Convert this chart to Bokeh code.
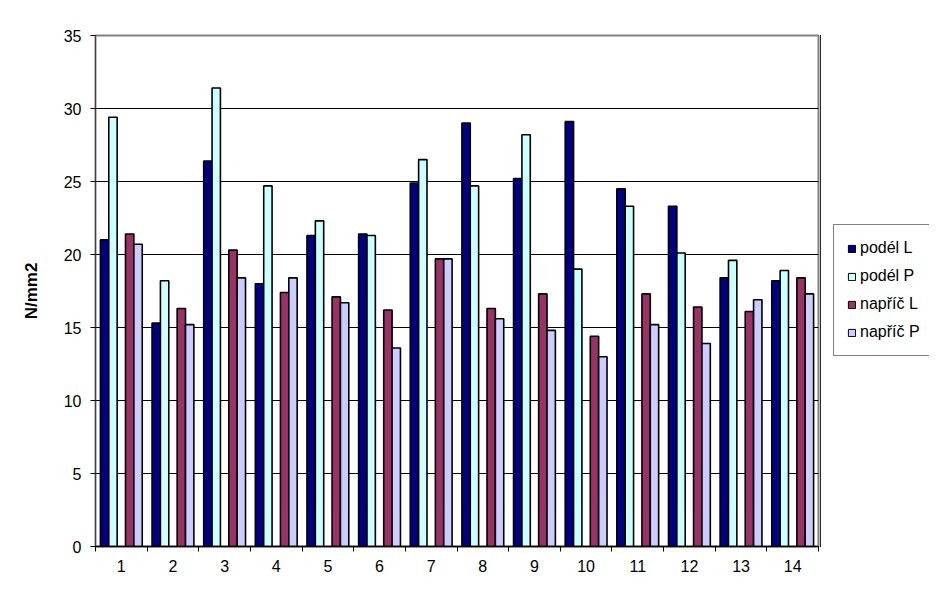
import numpy as np
from bokeh.plotting import figure
from bokeh.layouts import row
from bokeh.models import ColumnDataSource, Range1d, FixedTicker, Legend, LegendItem
from bokeh.transform import dodge
from bokeh.embed import file_html
from bokeh.resources import INLINE

categories = [str(i) for i in range(1, 15)]
podel_L = [21.0, 15.3, 26.4, 18.0, 21.3, 21.4, 24.9, 29.0, 25.2, 29.1, 24.5, 23.3, 18.4, 18.2]
podel_P = [29.4, 18.2, 31.4, 24.7, 22.3, 21.3, 26.5, 24.7, 28.2, 19.0, 23.3, 20.1, 19.6, 18.9]
napric_L = [21.4, 16.3, 20.3, 17.4, 17.1, 16.2, 19.7, 16.3, 17.3, 14.4, 17.3, 16.4, 16.1, 18.4]
napric_P = [20.7, 15.2, 18.4, 18.4, 16.7, 13.6, 19.7, 15.6, 14.8, 13.0, 15.2, 13.9, 16.9, 17.3]
series_names = ["podél L", "podél P", "napříč L", "napříč P"]
colors = ["#000080", "#CCFFFF", "#993366", "#CCCCFF"]
y_ticks = [0, 5, 10, 15, 20, 25, 30, 35]

xs = list(range(1, len(categories) + 1))
src = ColumnDataSource(dict(x=xs, a=podel_L, b=podel_P, c=napric_L, d=napric_P))
cols = ["a", "b", "c", "d"]

FONT = "Liberation Sans"

p = figure(width=820, height=594, output_backend="svg", toolbar_location=None,
           x_range=Range1d(0.5, 14.5), y_range=Range1d(0, 35),
           min_border_left=95, min_border_right=2, min_border_top=35, min_border_bottom=48)
p.background_fill_color = "white"
p.border_fill_color = "white"
p.outline_line_color = "#808080"
p.outline_line_width = 2

w = 0.162
offs = [-2 * w, -w, w, 2 * w]
for col, off, c in zip(cols, offs, colors):
    p.vbar(x=dodge("x", off), top=col, width=w, bottom=0, source=src,
           fill_color=c, line_color="black", line_width=1.6)

p.xgrid.visible = False
p.ygrid.grid_line_color = "black"
p.ygrid.grid_line_width = 1
p.ygrid.ticker = FixedTicker(ticks=y_ticks)

p.yaxis.ticker = FixedTicker(ticks=y_ticks)
p.yaxis.axis_line_color = "#404040"
p.yaxis.major_tick_in = 0
p.yaxis.major_tick_out = 5
p.yaxis.minor_tick_line_color = None
p.yaxis.major_label_text_font = FONT
p.yaxis.major_label_text_font_size = "16px"
p.yaxis.major_label_text_color = "black"
p.yaxis.major_label_standoff = 9
p.yaxis.axis_label = "N/mm2"
p.yaxis.axis_label_text_font = FONT
p.yaxis.axis_label_text_font_style = "bold"
p.yaxis.axis_label_text_font_size = "17px"
p.yaxis.axis_label_text_color = "black"
p.yaxis.axis_label_standoff = 20

p.xaxis.ticker = FixedTicker(ticks=xs, minor_ticks=[i + 0.5 for i in range(0, 15)])
p.xaxis.major_label_overrides = {x: lab for x, lab in zip(xs, categories)}
p.xaxis.axis_line_color = "black"
p.xaxis.axis_line_width = 1.5
p.xaxis.major_tick_in = 0
p.xaxis.major_tick_out = 0
p.xaxis.minor_tick_in = 0
p.xaxis.minor_tick_out = 5
p.xaxis.minor_tick_line_color = "black"
p.xaxis.major_label_text_font = FONT
p.xaxis.major_label_text_font_size = "16px"
p.xaxis.major_label_text_color = "black"
p.xaxis.major_label_standoff = 8

# legend panel: an axis-less figure whose bars lie outside its view
lf = figure(width=109, height=594, output_backend="svg", toolbar_location=None,
            x_range=Range1d(100, 101), y_range=Range1d(0, 1),
            min_border_left=0, min_border_right=0, min_border_top=0, min_border_bottom=0)
lf.axis.visible = False
lf.grid.visible = False
lf.outline_line_color = None
lf.background_fill_color = "white"
lf.border_fill_color = "white"
leg_renderers = [lf.vbar(x=dodge("x", off), top=col, width=w, source=src,
                         fill_color=c, line_color="black", line_width=1)
                 for col, off, c in zip(cols, offs, colors)]

items = [LegendItem(label=n, renderers=[r]) for n, r in zip(series_names, leg_renderers)]
legend = Legend(items=items, location=(13, 190))
legend.label_text_font = FONT
legend.label_text_font_size = "16px"
legend.label_text_color = "black"
legend.glyph_width = 9
legend.glyph_height = 9
legend.label_height = 20
legend.spacing = 8
legend.padding = 13
legend.label_standoff = 4
legend.margin = 0
legend.border_line_color = "black"
legend.border_line_width = 1
legend.background_fill_color = "white"
lf.add_layout(legend, "center")

layout = row(p, lf)
open("out.html", "w").write(file_html(layout, INLINE))
